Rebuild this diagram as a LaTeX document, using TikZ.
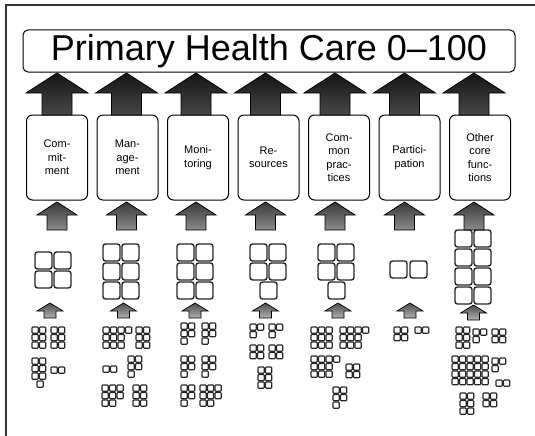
\documentclass[tikz,border=0pt]{standalone}
\usepackage{fontspec}
\setmainfont{Liberation Sans}
\usetikzlibrary{positioning}

% fat arrow pointing up: style, centre x, tip y, neck y, foot y, half head, half shaft
\newcommand{\blockup}[7]{%
  \draw[#1] (#2,#3) -- (#2+#6,#4) -- (#2+#7,#4) -- (#2+#7,#5)
    -- (#2-#7,#5) -- (#2-#7,#4) -- (#2-#6,#4) -- cycle;}
% block of little squares: top left x, y, squares per row
\newcommand{\sqgrid}[3]{%
  \foreach \n [count=\r from 0] in {#3}{
    \foreach \c in {1,...,\n}
      \draw[tinysq] ({#1+(\c-1)*7.5},{#2+\r*7.5}) rectangle ++(6.2,6.2);
  }}
\newcommand{\bigsq}[2]{\draw[bigsq] (#1,#2) rectangle ++(17,17);}

\tikzset{
  titlebox/.style={draw, line width=1pt, rounded corners=5pt, minimum width=492pt,
    minimum height=42pt, inner sep=0pt, font=\fontsize{36}{40}\selectfont},
  fnbox/.style={draw, line width=1pt, rounded corners=6pt, minimum width=61pt,
    minimum height=85pt, inner sep=0pt, align=center,
    font=\fontsize{11}{13.5}\selectfont},
  bigarr/.style={draw=black, line width=0.8pt, top color=black!92, bottom color=black!72},
  midarr/.style={draw=black, line width=0.8pt, top color=black!78, bottom color=black!45},
  smallarr/.style={draw=black, line width=0.7pt, top color=black!70, bottom color=black!30},
  bigsq/.style={draw=black!85, line width=1.4pt, rounded corners=2.5pt},
  tinysq/.style={draw=black!85, line width=1.1pt, rounded corners=0.8pt},
}

\begin{document}
\begin{tikzpicture}[x=1pt,y=-1pt]
  \useasboundingbox (0,0) rectangle (535,436);
  \draw[line width=1.5pt, black!80] (6,436) -- (6,5) -- (535,5);

  \node[titlebox] (title) at (269,51) {Primary Health Care 0--100};

  \node[fnbox] (commit) at (57,157.5) {Com-\\mit-\\ment};
  \node[fnbox, right=8.5pt of commit] (manage) {Man-\\age-\\ment};
  \node[fnbox, right=8.5pt of manage] (monitor) {Moni-\\toring};
  \node[fnbox, right=8.5pt of monitor] (resource) {Re-\\sources};
  \node[fnbox, right=8.5pt of resource] (common) {Com-\\mon\\prac-\\tices};
  \node[fnbox, right=8.5pt of common] (particip) {Partici-\\pation};
  \node[fnbox, right=8.5pt of particip] (other) {Other\\core\\func-\\tions};

  % arrows up to the title and up to the boxes
  \foreach \x in {57,126.5,196,265.5,335,404.5,474}{
    \blockup{bigarr}{\x}{73}{93}{115}{31}{15}
    \blockup{midarr}{\x}{202}{215}{230}{20}{10}
  }
  \foreach \x/\t in {50/303,123.5/303,195/303,265.5/303,338/303,410/303,473.5/305}{
    \blockup{smallarr}{\x}{\t}{\t+8}{\t+15}{13}{6}
  }

  % big squares
  \foreach \x/\y in {35/252,54/252,35/271,54/271,
      103/244,122/244,103/263,122/263,103/282,122/282,
      177/244,196/244,177/263,196/263,177/282,196/282,
      250/244,269/244,250/263,269/263,260/282,
      318/244,337/244,318/263,337/263,328/282,
      390/261,410/261,
      455/230,474/230,455/249,474/249,455/268,474/268,455/287,474/287}{
    \bigsq{\x}{\y}
  }

  % little squares
  \sqgrid{32}{327}{2,2,2} \sqgrid{51}{327}{2,2,2}
  \sqgrid{32}{358}{2,2,2} \sqgrid{37}{381}{1} \sqgrid{51}{367}{2}

  \sqgrid{103}{327}{4,3,3} \sqgrid{136}{327}{2,2,2} \sqgrid{103}{366}{2}
  \sqgrid{128}{356}{2,2,1} \sqgrid{102}{385}{3,3,2} \sqgrid{133}{385}{2,2,2}

  \sqgrid{181}{323}{2,2,1} \sqgrid{202}{323}{2,2,1} \sqgrid{181}{356}{2,2,1}
  \sqgrid{202}{356}{2,2,1} \sqgrid{181}{385}{2,2,1} \sqgrid{200}{385}{3,3,2}

  \sqgrid{250}{324}{2,1} \sqgrid{269}{324}{2,1} \sqgrid{250}{345}{2,2}
  \sqgrid{269}{345}{2,2} \sqgrid{258}{367}{2,2,2}

  \sqgrid{311}{327}{3,3,3} \sqgrid{340}{327}{4,3,3} \sqgrid{311}{356}{4,3,3}
  \sqgrid{346}{364}{2,2} \sqgrid{333}{387}{2,2,1}

  \sqgrid{394}{327}{2,2} \sqgrid{415}{327}{2}

  \sqgrid{456}{327}{2,2,2} \sqgrid{473}{329}{2,1} \sqgrid{492}{329}{2,2}
  \sqgrid{452}{356}{5,5,5,5} \sqgrid{492}{358}{2,1} \sqgrid{496}{380}{2}
  \sqgrid{460}{393}{2,2,2} \sqgrid{483}{393}{2,2}
\end{tikzpicture}
\end{document}
